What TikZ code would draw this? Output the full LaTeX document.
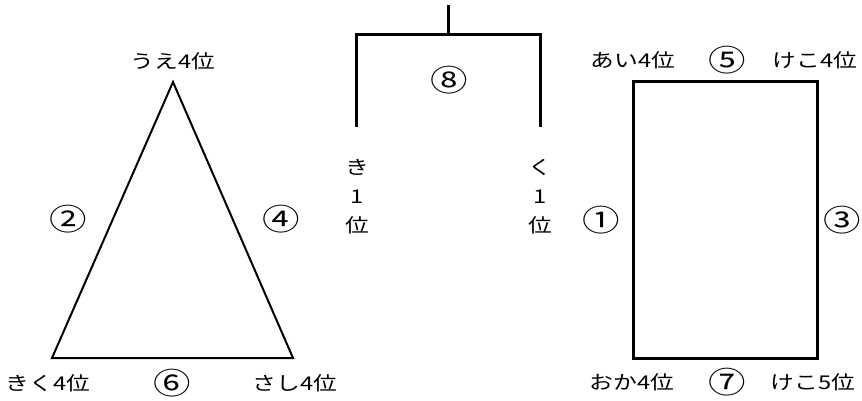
\documentclass[tikz,border=0pt]{standalone}
\usepackage{fontspec}
\newfontfamily\jp{Noto Sans CJK JP}
\begin{document}
\begin{tikzpicture}[x=1pt, y=-1pt, line join=miter,
    every node/.style={font=\jp\fontsize{19}{29}\selectfont, inner sep=0pt, xscale=1.25},
    num/.style={font=\jp\fontsize{30}{30}\selectfont},
    thin edge/.style={line width=2pt}, thick edge/.style={line width=3pt}]
  \useasboundingbox (0,0) rectangle (862,401);
  % triangle
  \coordinate (ue) at (173,82); \coordinate (kiku) at (52,358); \coordinate (sashi) at (293,358);
  \draw[thin edge] (ue) -- (sashi) -- (kiku) -- cycle;
  \node (ueL) at (173,61) {うえ4位};
  \node (kikuL) at (48,383) {きく4位};
  \node (sashiL) at (295,383) {さし4位};
  \node[num] (n2) at (68,219) {②}; \node[num] (n4) at (281,219) {④}; \node[num] (n6) at (172,383) {⑥};
  % bracket in the middle
  \coordinate (top) at (448,5); \coordinate (mid) at (448,35);
  \coordinate (kiTop) at (356,35); \coordinate (kuTop) at (540,35);
  \coordinate (kiEnd) at (356,127); \coordinate (kuEnd) at (540,127);
  \draw[thick edge] (top) -- (mid);
  \draw[thick edge] (kiEnd) -- (kiTop) -- (kuTop) -- (kuEnd);
  \node[num] (n8) at (449,80) {⑧};
  \node[align=center] (ki) at (357,197) {き\\1\\位};
  \node[align=center] (ku) at (540,197) {く\\1\\位};
  % rectangle
  \coordinate (ai) at (633,82); \coordinate (keko) at (817,82);
  \coordinate (oka) at (633,358); \coordinate (keko5) at (817,358);
  \draw[thick edge] (ai) -- (keko) -- (keko5) -- (oka) -- cycle;
  \node (aiL) at (633,60) {あい4位}; \node[num] (n5) at (727,60) {⑤}; \node (kekoL) at (815,60) {けこ4位};
  \node[num] (n1) at (601,220) {①}; \node[num] (n3) at (842,220) {③};
  \node (okaL) at (632,382) {おか4位}; \node[num] (n7) at (727,382) {⑦}; \node (keko5L) at (813,382) {けこ5位};
\end{tikzpicture}
\end{document}
